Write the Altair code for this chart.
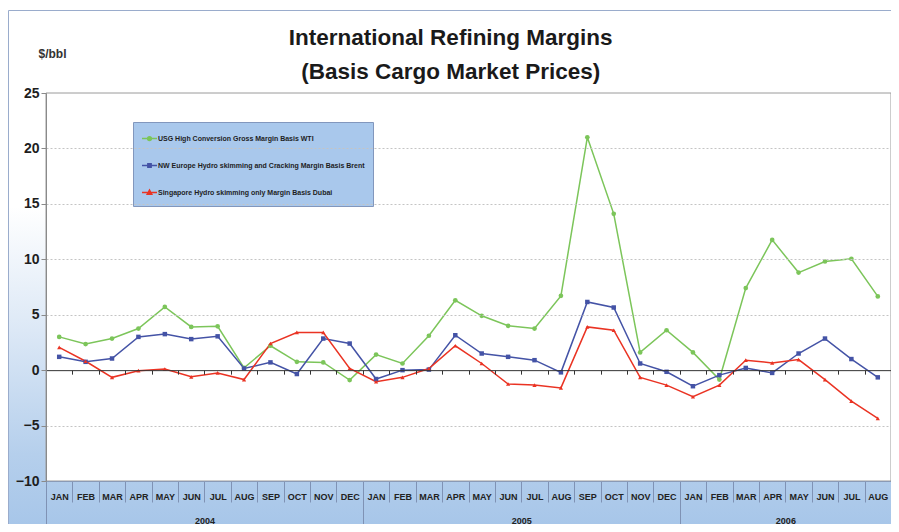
import altair as alt
import pandas as pd

# ---------------- data ----------------
month_names = ["JAN", "FEB", "MAR", "APR", "MAY", "JUN", "JUL", "AUG", "SEP", "OCT", "NOV", "DEC"]
months = month_names * 2 + month_names[:8]
years = ["2004", "2005", "2006"]
year_starts = [0, 12, 24]
year_ends = [11, 23, 31]

series_names = [
    "USG High Conversion Gross Margin Basis WTI",
    "NW Europe Hydro skimming and Cracking Margin Basis Brent",
    "Singapore Hydro skimming only Margin Basis Dubai",
]
usg = [3.0, 2.35, 2.85, 3.75, 5.7, 3.9, 3.95, 0.2, 2.2, 0.75, 0.7, -0.9,
       1.4, 0.6, 3.1, 6.3, 4.9, 4.0, 3.75, 6.7, 21.0, 14.1, 1.6, 3.6,
       1.6, -0.85, 7.4, 11.75, 8.8, 9.8, 10.05, 6.65]
nwe = [1.2, 0.75, 1.05, 3.0, 3.25, 2.8, 3.05, 0.15, 0.7, -0.35, 2.85, 2.4,
       -0.8, 0.0, 0.05, 3.15, 1.5, 1.2, 0.9, -0.2, 6.15, 5.65, 0.6, -0.15,
       -1.45, -0.45, 0.2, -0.25, 1.5, 2.85, 1.0, -0.65]
sing = [2.05, 0.8, -0.65, -0.05, 0.1, -0.6, -0.25, -0.85, 2.4, 3.4, 3.4, 0.15,
        -1.05, -0.65, 0.15, 2.2, 0.6, -1.25, -1.35, -1.6, 3.9, 3.6, -0.65, -1.35,
        -2.4, -1.35, 0.9, 0.65, 0.95, -0.85, -2.8, -4.35]
y_ticks = [-10, -5, 0, 5, 10, 15, 20, 25]

colors = ["#7cc55a", "#4453a6", "#ea3323"]
shapes = ["circle", "square", "triangle-up"]
sizes = [22, 18, 34]
legend_paths = [
    "M-1,0H1M-0.25,0A0.25,0.25 0 1,0 0.25,0A0.25,0.25 0 1,0 -0.25,0Z",
    "M-1,0H1M-0.22,-0.22H0.22V0.22H-0.22Z",
    "M-1,0H1M0,-0.32L0.3,0.22H-0.3Z",
]

rows = []
for name, vals in zip(series_names, [usg, nwe, sing]):
    for i, v in enumerate(vals):
        rows.append({"i": i, "series": name, "value": v})
df = pd.DataFrame(rows)

W, H = 845, 388
PAD_L, PAD_T, PAD_R, PAD_B = 38, 85, 0, 43
YMIN, YMAX = -10, 25
n = len(months)

months_js = "[" + ",".join("'%s'" % m for m in months) + "]"
year_centers = [(s + e) / 2 for s, e in zip(year_starts, year_ends)]
year_expr = " : ".join(
    "datum.value < %s ? '%s'" % (e + 0.5, y) for y, e in zip(years[:-1], year_ends[:-1])
) + " : '%s'" % years[-1]
month_bounds = [k + 0.5 for k in range(n - 1)]
year_bounds = [-0.5] + [e + 0.5 for e in year_ends]
inner_bounds = [b for b in month_bounds if b not in year_bounds]

FONT = "Liberation Sans"

xscale = alt.Scale(domain=[-0.5, n - 0.5], nice=False, zero=False)
yscale = alt.Scale(domain=[YMIN, YMAX], nice=False, zero=False)

# ---------------- background ----------------
one = pd.DataFrame({"a": [0]})
grad = alt.LinearGradient(
    gradient="linear", x1=0, y1=0, x2=0, y2=1,
    stops=[
        alt.GradientStop(offset=0, color="#ffffff"),
        alt.GradientStop(offset=0.38, color="#ffffff"),
        alt.GradientStop(offset=0.62, color="#dce8f6"),
        alt.GradientStop(offset=0.86, color="#b5cfec"),
        alt.GradientStop(offset=1, color="#a7c6e9"),
    ],
)
bg = alt.Chart(one).mark_rect(color=grad, stroke="#9aaccc", strokeWidth=1).encode(
    x=alt.value(-PAD_L + 0.5), x2=alt.value(W + 2), y=alt.value(-PAD_T + 2.5), y2=alt.value(H + PAD_B + 3)
)
plotbg = alt.Chart(one).mark_rect(fill="white", stroke="#9a9a9a", strokeWidth=1).encode(
    x=alt.value(0), x2=alt.value(W), y=alt.value(0), y2=alt.value(H)
)

# ---------------- data layers ----------------
yaxis = alt.Axis(
    orient="left", values=y_ticks, grid=True, gridDash=[2, 2], gridColor="#c4c4c4",
    gridOpacity={"condition": {"test": "datum.value == 0 || datum.value == 25 || datum.value == -10", "value": 0}, "value": 1},
    labelFont=FONT, labelFontSize=14, labelFontWeight="bold", labelColor="#1e1e1e",
    tickSize=5, tickColor="#8a8a8a", domainColor="#8a8a8a", labelPadding=2,
    title="$/bbl", titleAngle=0, titleX=-8, titleY=-36, titleAlign="left",
    titleBaseline="alphabetic", titleFont=FONT, titleFontSize=12, titleFontWeight="bold",
    titleColor="#333333", zindex=1,
)
month_axis = alt.Axis(
    orient="bottom", values=list(range(n)), labelExpr=months_js + "[datum.value]",
    ticks=False, domain=False, grid=False, labelPadding=11, labelFont=FONT,
    labelFontSize=9, labelFontWeight="bold", labelColor="#222222", title=None,
    labelOverlap=False, labelFlush=False, labelBound=False, zindex=1,
)
cscale = alt.Scale(domain=series_names, range=colors)

lines = alt.Chart().mark_line(strokeWidth=1.5).encode(
    x=alt.X("i:Q", scale=xscale, axis=month_axis),
    y=alt.Y("value:Q", scale=yscale, axis=yaxis),
    color=alt.Color("series:N", scale=cscale, legend=None),
    detail="series:N",
)
points = alt.Chart().mark_point(filled=True, opacity=1).encode(
    x=alt.X("i:Q", scale=xscale, axis=None),
    y=alt.Y("value:Q", scale=yscale, axis=None),
    color=alt.Color("series:N", scale=cscale, legend=None),
    shape=alt.Shape("series:N", scale=alt.Scale(domain=series_names, range=shapes), legend=None),
    size=alt.Size("series:N", scale=alt.Scale(domain=series_names, range=sizes), legend=None),
)

leg = dict(
    orient="none", legendX=87, legendY=29, title=None, fillColor="#a9c8ec",
    strokeColor="#8297bd", padding=8, rowPadding=13, symbolSize=225,
    symbolStrokeWidth=1.5, labelFont=FONT, labelFontSize=7.0,
    labelFontWeight="bold", labelColor="#1e1e1e", labelOffset=0, labelLimit=0,
)
legend_layer = alt.Chart().mark_point(filled=False, opacity=1, strokeWidth=1.5).encode(
    color=alt.Color("series:N", scale=cscale, legend=alt.Legend(**leg)),
    fill=alt.Fill("series:N", scale=cscale, legend=alt.Legend(**leg)),
    shape=alt.Shape("series:N", scale=alt.Scale(domain=series_names, range=legend_paths),
                    legend=alt.Legend(**leg)),
).transform_filter("false")

# ---------------- extra x axes ----------------
def axis_layer(axis):
    return alt.Chart().mark_point().encode(
        x=alt.X("i:Q", scale=xscale, axis=axis)
    ).transform_filter("false")

sep_axis = alt.Axis(
    orient="bottom", values=inner_bounds, labels=False, domain=False, grid=False,
    tickSize=21, tickColor="#7f92b4", tickWidth=1, title=None, zindex=1,
)
year_sep_axis = alt.Axis(
    orient="bottom", values=year_bounds, labels=False, domain=True, domainColor="#8a9ab5",
    grid=False, tickSize=46, tickColor="#7f92b4", tickWidth=1, title=None, zindex=1,
)
year_axis = alt.Axis(
    orient="bottom", values=year_centers, labelExpr=year_expr, ticks=False, domain=False,
    grid=False, labelPadding=35, labelFont=FONT, labelFontSize=9, labelFontWeight="bold",
    labelColor="#222222", title=None, zindex=1, labelFlush=False, labelBound=False,
)
zero_axis = alt.Axis(
    orient="bottom", offset=-H * (0 - YMIN) / (YMAX - YMIN), values=month_bounds,
    labels=False, domain=True, domainColor="#333333", domainWidth=1, grid=False,
    tickSize=4, tickColor="#333333", tickWidth=1, title=None, zindex=1,
)

chart = alt.layer(
    bg, plotbg, lines, points, legend_layer,
    axis_layer(sep_axis), axis_layer(year_sep_axis), axis_layer(year_axis), axis_layer(zero_axis),
    data=df,
).resolve_scale(
    color="independent", shape="independent", fill="independent", size="independent"
).resolve_axis(
    x="independent", y="independent"
).properties(
    width=W, height=H,
    title=alt.TitleParams(
        text=["International Refining Margins", "(Basis Cargo Market Prices)"],
        font=FONT, fontSize=22.5, fontWeight="bold", color="#1a1a1a",
        anchor="middle", frame="bounds", lineHeight=34, offset=0, dy=73,
    ),
    padding={"left": PAD_L, "top": PAD_T, "right": PAD_R, "bottom": PAD_B},
    autosize=alt.AutoSizeParams(type="none"),
    background="#ffffff",
).configure_view(stroke=None)

chart.save("out.html", embed_options={"renderer": "svg", "actions": False})
